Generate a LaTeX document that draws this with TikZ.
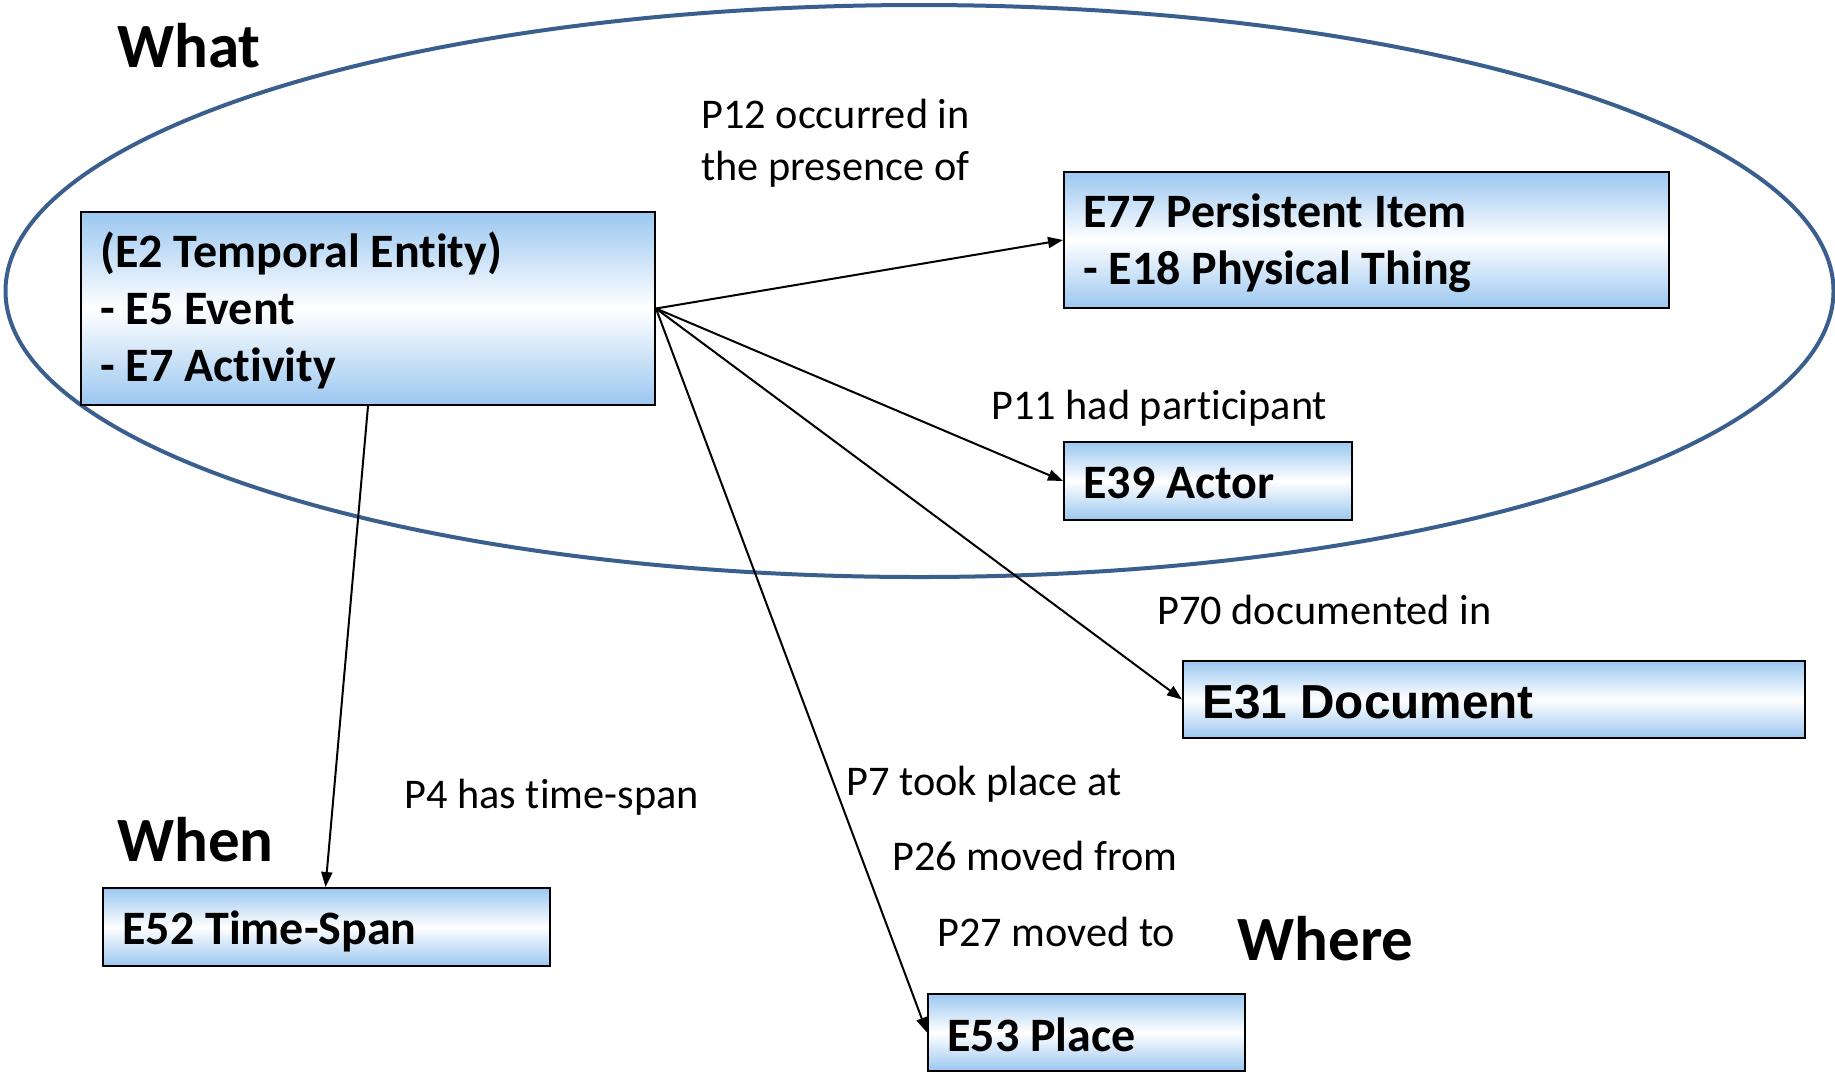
\documentclass[tikz,border=0pt]{standalone}
\usepackage{fontspec}
\setmainfont{Carlito}[Ligatures=NoCommon]
\newfontfamily\arialfont{Liberation Sans}
\usetikzlibrary{arrows.meta}
\definecolor{boxblue}{RGB}{155,199,240}
\definecolor{ellblue}{RGB}{58,95,142}
\begin{document}
\begin{tikzpicture}[x=0.5pt,y=-0.5pt,
  box/.style={draw=black,line width=1pt,top color=boxblue,bottom color=boxblue,middle color=white,
    inner sep=0pt},
  boxtext/.style={anchor=west,inner sep=0pt,align=flush left,font=\fontsize{24}{28.5}\selectfont\bfseries},
  lbl/.style={anchor=base west,inner sep=0pt,font=\fontsize{21.15}{25.75}\selectfont},
  head/.style={anchor=base west,inner sep=0pt,font=\fontsize{31.5}{38}\selectfont\bfseries},
  conn/.style={line width=1pt,-{Triangle[length=7.5pt,width=5.5pt]}}]
\useasboundingbox (0,0) rectangle (1835,1073);
\draw[ellblue,line width=2pt] (919.5,291) ellipse [x radius=457pt, y radius=143pt];

\node[box,minimum width=287pt,minimum height=96.5pt] (e2) at (368,308.5) {};
\node[boxtext] (e2t) at ([xshift=10pt,yshift=-1.2pt]e2.west)
  {(E2 Temporal Entity)\\- E5 Event\\- E7 Activity};
\node[box,minimum width=302.5pt,minimum height=68pt] (e77) at (1366.5,240) {};
\node[boxtext] (e77t) at ([xshift=10pt,yshift=-1.75pt]e77.west)
  {E77 Persistent Item\\- E18 Physical Thing};
\node[box,minimum width=144pt,minimum height=39pt] (e39) at (1208,481) {};
\node[boxtext] (e39t) at ([xshift=10pt,yshift=-1.2pt]e39.west) {E39 Actor};
\node[box,minimum width=311pt,minimum height=38.5pt] (e31) at (1494,699.5) {};
\node[boxtext,font=\fontsize{23.85}{28.5}\selectfont\arialfont\bfseries] (e31t) at ([xshift=10pt,yshift=-1.2pt]e31.west) {E31 Document};
\node[box,minimum width=223.5pt,minimum height=39pt] (e52) at (326.5,927) {};
\node[boxtext] (e52t) at ([xshift=10pt,yshift=-2.3pt]e52.west) {E52 Time-Span};
\node[box,minimum width=158.5pt,minimum height=38.5pt] (e53) at (1086.5,1032.5) {};
\node[boxtext] (e53t) at ([xshift=10pt,yshift=-1.2pt]e53.west) {E53 Place};

\draw[conn] (e2.east) -- (e77.west);
\draw[conn] (e2.east) -- (e39.west);
\draw[conn] (e2.east) -- (e31.west);
\draw[conn] (e2.east) -- (e53.west);
\draw[conn] (e2.south) -- ([xshift=-0.5pt]e52.north);

\node[lbl] (l12a) at (701,128.5) {P12 occurred in};
\node[lbl] (l12b) at (701,180) {the presence of};
\node[lbl] (l11) at (991,419) {P11 had participant};
\node[lbl] (l70) at (1157,624) {P70 documented in};
\node[lbl] (l4) at (404,808) {P4 has time-span};
\node[lbl] (l7) at (846,795) {P7 took place at};
\node[lbl] (l26) at (892,870) {P26 moved from};
\node[lbl] (l27) at (937,946) {P27 moved to};

\node[head] (what) at (117,67) {What};
\node[head] (when) at (117,861) {When};
\node[head] (where) at (1237,960) {Where};
\end{tikzpicture}
\end{document}
